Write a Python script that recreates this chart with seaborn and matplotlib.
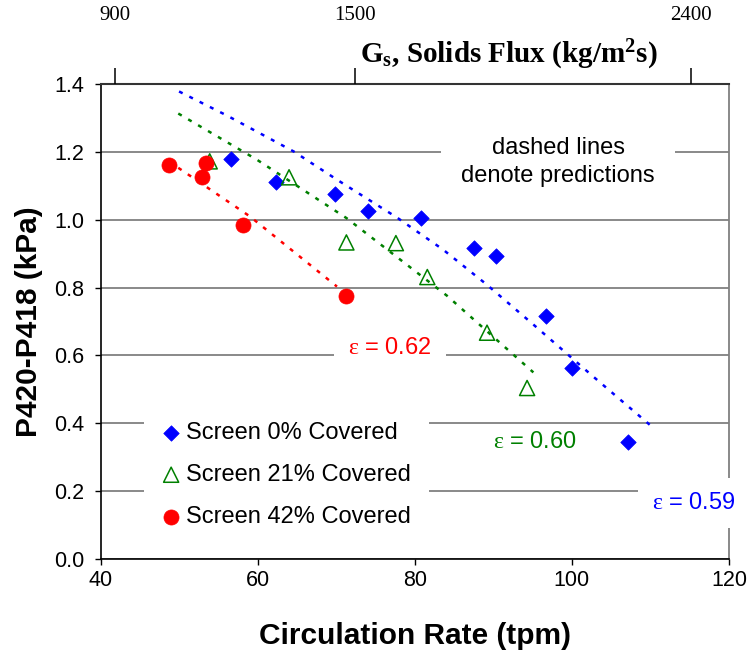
import matplotlib
matplotlib.use("Agg")
import matplotlib.pyplot as plt
import seaborn as sns

# --------- data ---------
# measured pressure drop, one set per screen coverage
rate_0 = [56.6, 62.4, 69.8, 74.0, 80.8, 87.5, 90.3, 96.7, 100.0, 107.2]
dp_0 = [1.180, 1.110, 1.077, 1.027, 1.004, 0.918, 0.894, 0.716, 0.564, 0.344]
rate_21 = [53.9, 64.0, 71.3, 77.6, 81.6, 89.2, 94.3]
dp_21 = [1.172, 1.125, 0.933, 0.931, 0.831, 0.667, 0.504]
rate_42 = [48.7, 53.4, 52.9, 58.1, 71.2]
dp_42 = [1.162, 1.167, 1.126, 0.983, 0.776]

# model predictions (dashed)
pred_rate_0 = [50.0, 56.1, 64.6, 70.1, 77.7, 83.6, 89.1, 94.9, 102.7, 110.4]
pred_dp_0 = [1.378, 1.307, 1.201, 1.118, 1.007, 0.912, 0.810, 0.695, 0.538, 0.386]
pred_rate_21 = [49.9, 59.9, 71.3, 84.1, 95.1]
pred_dp_21 = [1.313, 1.177, 1.005, 0.776, 0.550]
pred_rate_42 = [49.9, 59.0, 70.1]
pred_dp_42 = [1.153, 1.010, 0.803]

labels = ["Screen 0% Covered", "Screen 21% Covered", "Screen 42% Covered"]
eps_labels = ["0.59", "0.60", "0.62"]

# solids flux axis (top), placed on the circulation-rate scale
flux_at_rate = [41.85, 72.4, 115.1]
flux_labels = ["900", "1500", "2400"]

x_ticks = [40, 60, 80, 100, 120]
y_ticks = [0.0, 0.2, 0.4, 0.6, 0.8, 1.0, 1.2, 1.4]
# -------------------------------------------

BLUE, GREEN, RED = "#0000ff", "#008000", "#ff0000"
SANS = "Liberation Sans"
SERIF = "Liberation Serif"

sns.set_theme(style="white")
plt.rcParams["font.family"] = [SANS, "DejaVu Sans"]
plt.rcParams["text.color"] = "black"
plt.rcParams["axes.labelcolor"] = "black"
# greek letter and sub/superscripts in a Times-like face
plt.rcParams["mathtext.fontset"] = "custom"
plt.rcParams["mathtext.rm"] = SERIF
plt.rcParams["mathtext.it"] = SERIF + ":italic"
plt.rcParams["mathtext.bf"] = SERIF + ":bold"

fig = plt.figure(figsize=(7.49, 6.56), dpi=100)
ax = fig.add_axes([100.5 / 749, 1 - 559 / 656, 628.5 / 749, 475 / 656])

dash = (0, (1.6, 3.0))
sns.lineplot(x=pred_rate_0, y=pred_dp_0, color=BLUE, lw=1.8, linestyle=dash,
             estimator=None, sort=False, ax=ax)
sns.lineplot(x=pred_rate_21, y=pred_dp_21, color=GREEN, lw=1.8, linestyle=dash,
             estimator=None, sort=False, ax=ax)
sns.lineplot(x=pred_rate_42, y=pred_dp_42, color=RED, lw=1.8, linestyle=dash,
             estimator=None, sort=False, ax=ax)

sns.scatterplot(x=rate_0, y=dp_0, marker="D", s=62, color=BLUE,
                edgecolor=BLUE, linewidth=0.5, label=labels[0], ax=ax, zorder=4)
sns.scatterplot(x=rate_21, y=dp_21, marker="^", s=118, facecolor="none",
                edgecolor=GREEN, linewidth=1.1, label=labels[1], ax=ax, zorder=4)
sns.scatterplot(x=rate_42, y=dp_42, marker="o", s=118, color=RED,
                edgecolor=RED, linewidth=0.5, label=labels[2], ax=ax, zorder=4)

ax.set_xlim(40, 120)
ax.set_ylim(0, 1.4)
ax.set_xticks(x_ticks)
ax.set_yticks(y_ticks)
ax.set_yticklabels([f"{v:.1f}" for v in y_ticks])
ax.yaxis.grid(True, color="#808080", lw=1.3)
ax.xaxis.grid(False)
ax.set_axisbelow(True)

for side in ["left", "bottom"]:
    ax.spines[side].set_color("black")
    ax.spines[side].set_linewidth(1.2)
ax.spines["top"].set_color("#333333")
ax.spines["top"].set_linewidth(1.5)
ax.spines["right"].set_color("#808080")
ax.spines["right"].set_linewidth(1.3)

ax.tick_params(axis="both", direction="out", length=4.6, width=1,
               color="black", labelsize=15.5, labelcolor="black",
               bottom=True, left=True)
ax.tick_params(axis="y", pad=7)
ax.tick_params(axis="x", pad=3)

ax.set_xlabel("Circulation Rate (tpm)", fontsize=21.5, fontweight="bold")
ax.set_ylabel("P420-P418 (kPa)", fontsize=21.5, fontweight="bold")
ax.xaxis.set_label_coords(0.5, -0.162)
ax.xaxis.label.set_va("center")
ax.yaxis.set_label_coords(-0.114, 0.5)
ax.yaxis.label.set_va("center")

# top axis: solids flux
ax2 = ax.twiny()
ax2.set_xlim(ax.get_xlim())
ax2.set_xticks(flux_at_rate)
ax2.set_xticklabels(flux_labels, fontfamily=SERIF, fontsize=15, color="black")
ax2.tick_params(axis="x", direction="out", length=11.5, width=1.1,
                color="black", pad=31, top=True)
for sp in ax2.spines.values():
    sp.set_visible(False)
ax2.grid(False)
ax.text(0.650, 1.061, r"G$_\mathbf{s}$, Solids Flux (kg/m$^\mathbf{2}$s)",
        transform=ax.transAxes, ha="center", va="center",
        fontfamily=SERIF, fontsize=21, fontweight="bold")

# annotations
eps = r"$\mathrm{\varepsilon}$ = "
ax.text(0.728, 0.836, "dashed lines\ndenote predictions", transform=ax.transAxes,
        ha="center", va="center", fontsize=17, linespacing=1.4, zorder=3,
        bbox=dict(boxstyle="square,pad=0.85", fc="white", ec="none"))
ax.text(0.461, 0.444, eps + eps_labels[2], transform=ax.transAxes,
        ha="center", va="center", fontsize=17, color=RED, zorder=3,
        bbox=dict(boxstyle="square,pad=0.6", fc="white", ec="none"))
ax.text(0.691, 0.246, eps + eps_labels[1], transform=ax.transAxes,
        ha="center", va="center", fontsize=17, color=GREEN, zorder=3)
ax.text(0.944, 0.118, eps + eps_labels[0], transform=ax.transAxes,
        ha="center", va="center", fontsize=17, color=BLUE, zorder=5,
        clip_on=False,
        bbox=dict(boxstyle="square,pad=0.6", fc="white", ec="none"))

leg = ax.legend(loc="center left", bbox_to_anchor=(0.0692, 0.177),
                borderaxespad=0, borderpad=0.75, handlelength=0.8,
                handletextpad=0.25, labelspacing=0.85, fontsize=17,
                frameon=True, fancybox=False, framealpha=1)
leg.get_frame().set_edgecolor("none")
leg.get_frame().set_facecolor("white")
leg.set_zorder(3)

fig.savefig("out.png", dpi=100)
